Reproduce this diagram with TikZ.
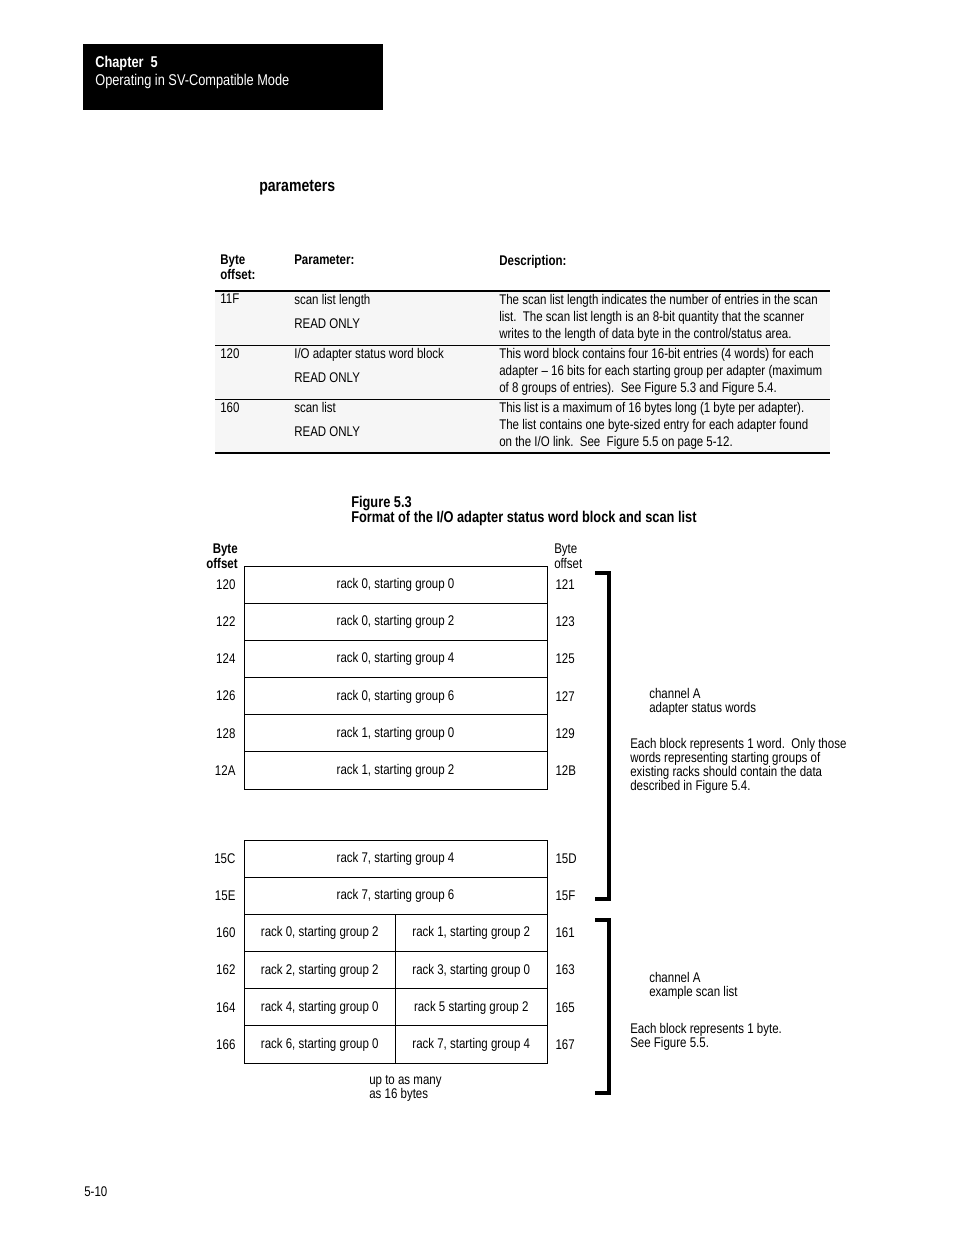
\documentclass[tikz,border=0pt]{standalone}
\usepackage{fontspec}
\setmainfont{Liberation Sans}[FakeStretch=0.82]
\usetikzlibrary{positioning}
\newlength{\pix}
\setlength{\pix}{0.6415pt}
\newcommand{\diagfont}{\fontsize{9}{9}\selectfont}
\newcommand{\tabfont}{\fontsize{9}{10.9}\selectfont}
\definecolor{rowgray}{gray}{0.965}

\begin{document}
\begin{tikzpicture}[x=0.6415pt, y=-0.6415pt, node distance=5pt,
  every node/.style={font=\diagfont},
  cell/.style={shape=rectangle, draw=black, line width=0.6pt, minimum width=303*\pix, minimum height=37.17*\pix, inner sep=0pt, text height=7pt, text depth=2pt},
  half/.style={cell, minimum width=151.5*\pix},
  offl/.style={inner sep=0pt},
  txt/.style={anchor=north west, inner sep=0pt, align=left},
  tab/.style={txt, font=\tabfont},
  brace/.style={line width=2.9pt, line join=miter}]
\useasboundingbox (0,0) rectangle (954,1235);

% page head
\fill [black] (83,44) rectangle (383,110);
\node [txt, text=white, font=\fontsize{10}{11.5}\selectfont] (head) at (95,55.5) {\textbf{Chapter\ \ 5}\\Operating in SV-Compatible Mode};
\node [txt, font=\fontsize{11}{13}\selectfont\bfseries] (params) at (259,180) {parameters};

% parameter table
\fill [rowgray] (215,291) rectangle (830,453);
\draw [line width=0.8pt] (215,291) -- (830,291);
\draw [line width=0.6pt] (215,345) -- (830,345);
\draw [line width=0.6pt] (215,399) -- (830,399);
\draw [line width=0.9pt] (215,453) -- (830,453);
\node [txt, font=\diagfont\bfseries] (hoff) at (220,255) {Byte\\offset:};
\node [txt, font=\diagfont\bfseries] (hpar) at (294,255) {Parameter:};
\node [txt, font=\diagfont\bfseries] (hdes) at (499,255) {Description:};

\node [tab] (o11F) at (220,294) {11F};
\node [tab] (p11F) at (294,294) {scan list length};
\node [tab] (r11F) at (294,318) {READ ONLY};
\node [tab] (d11F) at (499,294) {The scan list length indicates the number of entries in the scan\\list.\ \ The scan list length is an 8-bit quantity that the scanner\\writes to the length of data byte in the control/status area.};
\node [tab] (o120) at (220,348) {120};
\node [tab] (p120) at (294,348) {I/O adapter status word block};
\node [tab] (r120) at (294,372) {READ ONLY};
\node [tab] (d120) at (499,348) {This word block contains four 16-bit entries (4 words) for each\\adapter -- 16 bits for each starting group per adapter (maximum\\of 8 groups of entries).\ \ See Figure 5.3 and Figure 5.4.};
\node [tab] (o160) at (220,402) {160};
\node [tab] (p160) at (294,402) {scan list};
\node [tab] (r160) at (294,426) {READ ONLY};
\node [tab] (d160) at (499,402) {This list is a maximum of 16 bytes long (1 byte per adapter).\\The list contains one byte-sized entry for each adapter found\\on the I/O link.\ \ See\ \ Figure 5.5 on page 5-12.};

% figure 5.3
\node [txt, font=\fontsize{10}{9.6}\selectfont\bfseries] (cap) at (351,495.5) {Figure 5.3\\Format of the I/O adapter status word block and scan list};
\node [anchor=north east, inner sep=0pt, align=right, font=\diagfont\bfseries] (lhead) at (238,544) {Byte\\offset};
\node [txt] (rhead) at (554,544) {Byte\\offset};

\node [cell] (w120) at (395.5,584.585) {rack 0, starting group 0};
\node [cell] (w122) at (395.5,621.755) {rack 0, starting group 2};
\node [cell] (w124) at (395.5,658.925) {rack 0, starting group 4};
\node [cell] (w126) at (395.5,696.095) {rack 0, starting group 6};
\node [cell] (w128) at (395.5,733.265) {rack 1, starting group 0};
\node [cell] (w12A) at (395.5,770.435) {rack 1, starting group 2};
\node [cell] (w15C) at (395.5,858.585) {rack 7, starting group 4};
\node [cell] (w15E) at (395.5,895.755) {rack 7, starting group 6};
\node [half] (s160) at (319.75,932.925) {rack 0, starting group 2};
\node [half] (s161) at (471.25,932.925) {rack 1, starting group 2};
\node [half] (s162) at (319.75,970.095) {rack 2, starting group 2};
\node [half] (s163) at (471.25,970.095) {rack 3, starting group 0};
\node [half] (s164) at (319.75,1007.265) {rack 4, starting group 0};
\node [half] (s165) at (471.25,1007.265) {rack 5 starting group 2};
\node [half] (s166) at (319.75,1044.435) {rack 6, starting group 0};
\node [half] (s167) at (471.25,1044.435) {rack 7, starting group 4};

\node [offl, left=of w120] (l120) {120};
\node [offl, left=of w122] (l122) {122};
\node [offl, left=of w124] (l124) {124};
\node [offl, left=of w126] (l126) {126};
\node [offl, left=of w128] (l128) {128};
\node [offl, left=of w12A] (l12A) {12A};
\node [offl, left=of w15C] (l15C) {15C};
\node [offl, left=of w15E] (l15E) {15E};
\node [offl, left=of s160] (l160) {160};
\node [offl, left=of s162] (l162) {162};
\node [offl, left=of s164] (l164) {164};
\node [offl, left=of s166] (l166) {166};

\node [offl, right=of w120] (l121) {121};
\node [offl, right=of w122] (l123) {123};
\node [offl, right=of w124] (l125) {125};
\node [offl, right=of w126] (l127) {127};
\node [offl, right=of w128] (l129) {129};
\node [offl, right=of w12A] (l12B) {12B};
\node [offl, right=of w15C] (l15D) {15D};
\node [offl, right=of w15E] (l15F) {15F};
\node [offl, right=of s161] (l161) {161};
\node [offl, right=of s163] (l163) {163};
\node [offl, right=of s165] (l165) {165};
\node [offl, right=of s167] (l167) {167};

\node [txt] (more) at (369,1075) {up to as many\\as 16 bytes};

% brackets and notes
\draw [brace] (595,573) -- (609,573) -- (609,899) -- (595,899);
\draw [brace] (595,920) -- (609,920) -- (609,1093) -- (595,1093);
\node [txt] (chw) at (649,688) {channel A\\adapter status words};
\node [txt] (eachw) at (630,738) {Each block represents 1 word.\ \ Only those\\words representing starting groups of\\existing racks should contain the data\\described in Figure 5.4.};
\node [txt] (chs) at (649,972) {channel A\\example scan list};
\node [txt] (eachs) at (630,1023) {Each block represents 1 byte.\\See Figure 5.5.};

\node [txt] (page) at (84,1186) {5-10};
\end{tikzpicture}
\end{document}
